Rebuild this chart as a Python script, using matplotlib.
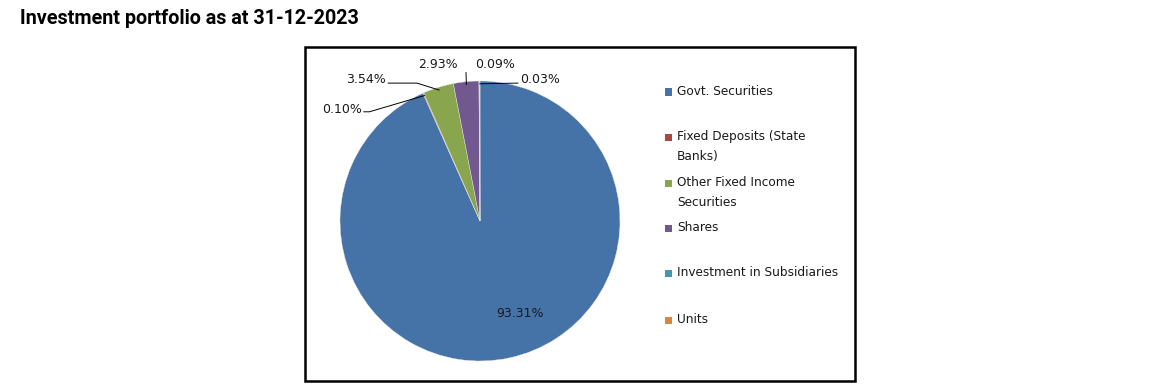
import numpy as np
import matplotlib.pyplot as plt
from matplotlib.patches import Rectangle

# dane portfela
kategorie = ['Govt. Securities', 'Fixed Deposits (State\nBanks)', 'Other Fixed Income\nSecurities',
             'Shares', 'Investment in Subsidiaries', 'Units']
udzialy = [93.31, 0.10, 3.54, 2.93, 0.09, 0.03]
kolory = ['#4572A7', '#AA4643', '#89A54E', '#71588F', '#4198AF', '#DB843D']

W, H = 1150, 388


def fx(px):
    return px / W


def fy(py):
    return 1 - py / H


fig = plt.figure(figsize=(W / 100, H / 100), dpi=100)
fig.text(fx(20), fy(18), 'Investment portfolio as at 31-12-2023', fontsize=14.2, fontweight='bold',
         family='Roboto', va='center', ha='left')

# ramka wykresu
fig.patches.append(Rectangle((fx(305), fy(381)), fx(550), (381 - 47) / H, transform=fig.transFigure,
                             fill=False, edgecolor='black', linewidth=1.8))

ax = fig.add_axes([fx(340), fy(361), 280 / W, 280 / H])
wedges, _ = ax.pie(udzialy, colors=kolory, startangle=90, counterclock=False,
                   wedgeprops={'linewidth': 0.3, 'edgecolor': '#e8e8e8'})
ax.set_xlim(-1, 1)
ax.set_ylim(-1, 1)

# etykiety procentowe (pozycja tekstu, wyrownanie, punkty linii)
ustawienia = [
    None,
    ((-0.843, 0.793), 'right', [(-0.83, 0.78), (-0.79, 0.78)]),
    ((-0.671, 1.014), 'right', [(-0.655, 0.985), (-0.45, 0.985)]),
    ((-0.30, 1.121), 'center', [(-0.10, 1.06)]),
    ((0.107, 1.121), 'center', None),
    ((0.286, 1.014), 'left', [(0.27, 0.985)]),
]
for i, w in enumerate(wedges):
    tekst = '{:.2f}%'.format(udzialy[i])
    if i == 0:
        ax.text(0.286, -0.664, tekst, ha='center', va='center', fontsize=9, color='#1a1a1a')
        continue
    pos, ha, linia = ustawienia[i]
    kat = np.deg2rad((w.theta1 + w.theta2) / 2)
    punkt = (0.98 * np.cos(kat), 0.98 * np.sin(kat))
    ax.text(pos[0], pos[1], tekst, ha=ha, va='center', fontsize=9, color='#1a1a1a', clip_on=False)
    if linia is not None:
        xs = [p[0] for p in linia] + [punkt[0]]
        ys = [p[1] for p in linia] + [punkt[1]]
        ax.plot(xs, ys, color='black', linewidth=0.7, clip_on=False)

# legenda
legenda_y = [92, 137, 183, 228, 273, 320]
for i, nazwa in enumerate(kategorie):
    y = legenda_y[i]
    fig.patches.append(Rectangle((fx(665), fy(y + 3.5)), fx(7), 7 / H, transform=fig.transFigure,
                                 facecolor=kolory[i], edgecolor='none'))
    fig.text(fx(677), fy(y - 7), nazwa, fontsize=8.7, va='top', ha='left', linespacing=1.75,
             color='#1a1a1a')

fig.savefig('out.png', dpi=100)
